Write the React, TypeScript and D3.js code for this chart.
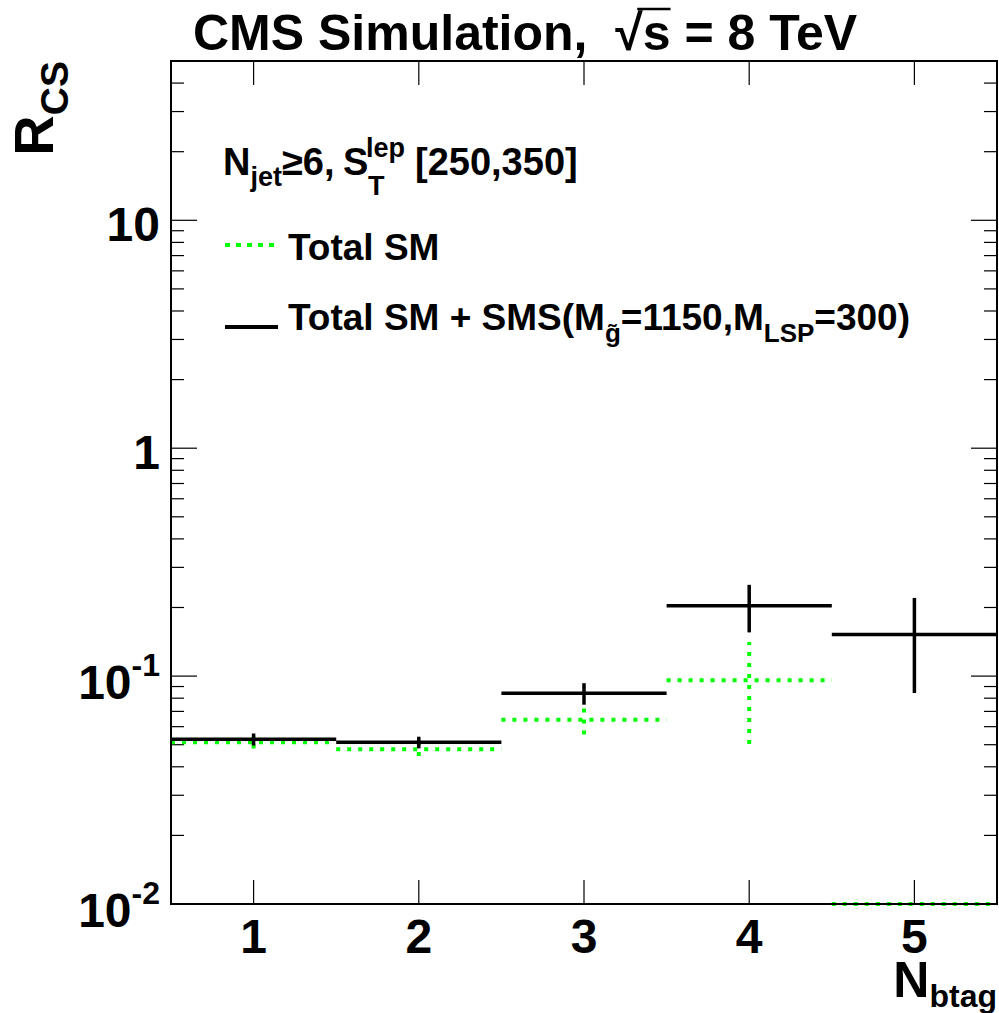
import React, { useLayoutEffect, useRef, useState } from 'react';
import * as d3 from 'd3';

// ---- data ----
const binCenters = [1, 2, 3, 4, 5];
const binLow = [0.5, 1.5, 2.5, 3.5, 4.5];
const binHigh = [1.5, 2.5, 3.5, 4.5, 5.5];
const smsValues = [0.0528, 0.0512, 0.084, 0.2035, 0.1523];
const smsErrors = [0.0032, 0.003, 0.0091, 0.048, 0.068];
const smValues = [0.0512, 0.0477, 0.0644, 0.0958, 0];
const smErrors = [0.0031, 0.0031, 0.009, 0.0455, 0];
const xTickValues = [1, 2, 3, 4, 5];
const yLabelValues = [0.01, 0.1, 1, 10];
const yLabelBases = ['10', '10', '1', '10'];
const yLabelExps = ['-2', '-1', '', ''];

const W = 999;
const H = 1013;
const FONT = '"Liberation Sans", Arial, Helvetica, sans-serif';
const GREEN = '#00ff00';

export default function App() {
  const x = d3.scaleLinear().domain([0.5, 5.5]).range([171, 997]);
  const y = d3.scaleLog().domain([0.01, 50]).range([904, 61]);
  const yv = (v: number) => y(Math.max(v, 0.01));
  const [left, right] = x.range();
  const [bottom, top] = y.range();

  const titleRef = useRef<SVGTextElement>(null);
  const [over, setOver] = useState<{ x1: number; x2: number; y: number } | null>(null);
  useLayoutEffect(() => {
    const t = titleRef.current as any;
    if (!t) return;
    const full = t.textContent as string;
    const iRoot = full.indexOf('\u221A');
    const iS = iRoot + 1;
    try {
      const r = t.getExtentOfChar(iRoot);
      const s = t.getExtentOfChar(iS);
      setOver({ x1: r.x + r.width * 0.8, x2: s.x + s.width, y: r.y + 4 });
    } catch (e) {}
  }, []);

  const yTicks = y.ticks();
  const isMajor = (v: number) => Math.abs(Math.log10(v) - Math.round(Math.log10(v))) < 1e-6;

  const B = { fontFamily: FONT, fontWeight: 'bold' as const };

  return (
    <svg width={W} height={H} style={{ position: 'absolute', left: 0, top: 0, background: '#fff' }}>
      {/* title */}
      <text ref={titleRef} x={193} y={50} fontSize={50} {...B} fill="#000">
        CMS Simulation,{'\u00A0\u00A0'}
        <tspan>{'\u221A'}</tspan>
        <tspan>s</tspan>
        {' = 8 TeV'}
      </text>
      {over && (
        <line x1={over.x1} x2={over.x2} y1={over.y} y2={over.y} stroke="#000" strokeWidth={2.5} />
      )}

      {/* Y axis ticks */}
      {yTicks.map((v, i) => {
        const len = isMajor(v) ? 26 : 13;
        const yy = y(v);
        if (yy < top + 0.5) return null;
        return (
          <g key={'yt' + i}>
            <line x1={left} x2={left + len} y1={yy} y2={yy} stroke="#000" strokeWidth={1.2} />
            <line x1={right} x2={right - len} y1={yy} y2={yy} stroke="#000" strokeWidth={1.2} />
          </g>
        );
      })}
      {/* X axis ticks */}
      {xTickValues.map((v) => (
        <g key={'xt' + v}>
          <line x1={x(v)} x2={x(v)} y1={bottom} y2={bottom - 24} stroke="#000" strokeWidth={1.2} />
          <line x1={x(v)} x2={x(v)} y1={top} y2={top + 24} stroke="#000" strokeWidth={1.2} />
        </g>
      ))}

      {/* Y tick labels */}
      {yLabelValues.map((v, i) => (
        <text key={'yl' + i} x={160} y={y(v) + (yLabelExps[i] ? 23 : 21)} fontSize={48} {...B} textAnchor="end" fill="#000">
          {yLabelBases[i]}
          {yLabelExps[i] && (
            <tspan fontSize={32} dy={-23}>
              {yLabelExps[i]}
            </tspan>
          )}
        </text>
      ))}
      {/* X tick labels */}
      {xTickValues.map((v) => (
        <text key={'xl' + v} x={x(v)} y={953} fontSize={48} {...B} textAnchor="middle" fill="#000">
          {v}
        </text>
      ))}

      {/* Total SM (green dotted) */}
      {smValues.map((v, i) => (
        <g key={'sm' + i}>
          <line x1={x(binLow[i])} x2={x(binHigh[i])} y1={yv(v)} y2={yv(v)} stroke={GREEN} strokeWidth={4} strokeDasharray="4 7" />
          {smErrors[i] > 0 && (
            <line x1={x(binCenters[i])} x2={x(binCenters[i])} y1={yv(v - smErrors[i])} y2={yv(v + smErrors[i])} stroke={GREEN} strokeWidth={4} strokeDasharray="4 7" />
          )}
        </g>
      ))}
      {/* Total SM + SMS (black) */}
      {smsValues.map((v, i) => (
        <g key={'sms' + i}>
          <line x1={x(binLow[i])} x2={x(binHigh[i])} y1={yv(v)} y2={yv(v)} stroke="#000" strokeWidth={3.5} />
          <line x1={x(binCenters[i])} x2={x(binCenters[i])} y1={yv(v - smsErrors[i])} y2={yv(v + smsErrors[i])} stroke="#000" strokeWidth={3.5} />
        </g>
      ))}

      {/* frame */}
      <rect x={left} y={top} width={right - left} height={bottom - top} fill="none" stroke="#000" strokeWidth={2} />

      {/* Y axis title */}
      <text transform={`translate(53, 61) rotate(-90)`} fontSize={56} {...B} textAnchor="end" fill="#000">
        R
        <tspan fontSize={39} dy={15}>CS</tspan>
      </text>
      {/* X axis title */}
      <text x={997} y={997} fontSize={50} {...B} textAnchor="end" fill="#000">
        N
        <tspan fontSize={32} dy={10}>btag</tspan>
      </text>

      {/* legend header */}
      <text x={223} y={175} fontSize={38} {...B} fill="#000">
        N
        <tspan fontSize={27} dy={11}>jet</tspan>
        <tspan dy={-11}>{'\u2265'}6,</tspan>
      </text>
      <text x={343} y={175} fontSize={38} {...B} fill="#000">S</text>
      <text x={366} y={157} fontSize={27} {...B} fill="#000">lep</text>
      <text x={368} y={195} fontSize={27} {...B} fill="#000">T</text>
      <text x={415} y={175} fontSize={38} {...B} fill="#000">[250,350]</text>

      {/* legend entries */}
      <line x1={225} x2={278} y1={245} y2={245} stroke={GREEN} strokeWidth={4} strokeDasharray="5 6" />
      <text x={288} y={260} fontSize={37} {...B} fill="#000">Total SM</text>
      <line x1={225} x2={278} y1={327} y2={327} stroke="#000" strokeWidth={4} />
      <text x={288} y={330} fontSize={37} {...B} fill="#000">
        Total SM + SMS(M
        <tspan fontSize={26} dy={12}>{'g\u0303'}</tspan>
        <tspan dy={-12}>=1150,M</tspan>
        <tspan fontSize={26} dy={12}>LSP</tspan>
        <tspan dy={-12}>=300)</tspan>
      </text>
    </svg>
  );
}
